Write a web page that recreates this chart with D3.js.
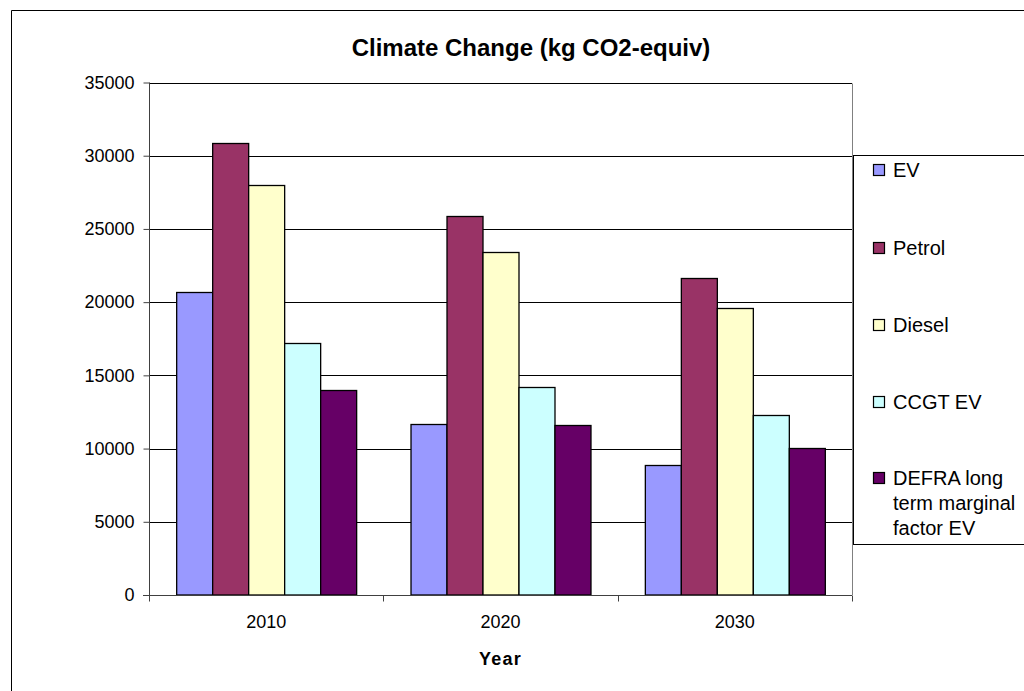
<!DOCTYPE html>
<html>
<head>
<meta charset="utf-8">
<script src="https://cdn.jsdelivr.net/npm/d3@7"></script>
<style>
  html, body { margin: 0; padding: 0; background: #fff; }
  svg { display: block; font-family: "Liberation Sans", Arial, sans-serif; }
</style>
</head>
<body>
<svg id="chart" width="1024" height="691"></svg>
<script>
// Climate change impact per vehicle type, kg CO2-equivalent
const years = ["2010", "2020", "2030"];
const seriesNames = ["EV", "Petrol", "Diesel", "CCGT EV", "DEFRA long term marginal factor EV"];
const legendLines = [["EV"], ["Petrol"], ["Diesel"], ["CCGT EV"], ["DEFRA long", "term marginal", "factor EV"]];
const evValues     = [20700, 11700, 8900];
const petrolValues = [30900, 25900, 21650];
const dieselValues = [28000, 23400, 19600];
const ccgtValues   = [17200, 14200, 12300];
const defraValues  = [14000, 11600, 10050];
const yTicks = [0, 5000, 10000, 15000, 20000, 25000, 30000, 35000];
const colors = ["#9999FF", "#993366", "#FFFFCC", "#CCFFFF", "#660066"];

const seriesValues = [evValues, petrolValues, dieselValues, ccgtValues, defraValues];

const svg = d3.select("#chart");
const plot = { left: 149, right: 852, top: 82.5, bottom: 595 };

// outer chart frame
svg.append("path")
  .attr("d", "M11.5,700 V10.5 H1030")
  .attr("fill", "none").attr("stroke", "#000").attr("stroke-width", 1);

const x0 = d3.scaleBand().domain(years).range([plot.left, plot.right]).paddingInner(0).paddingOuter(0);
const x1 = d3.scaleBand().domain(seriesNames).range([0, x0.bandwidth()]).paddingInner(0).paddingOuter(0.755);
const y = d3.scaleLinear().domain([0, 35000]).range([plot.bottom, plot.top]);

// gridlines
svg.append("g").selectAll("line").data(yTicks.filter(d => d > 0)).join("line")
  .attr("x1", plot.left).attr("x2", plot.right)
  .attr("y1", d => Math.round(y(d)) + 0.5).attr("y2", d => Math.round(y(d)) + 0.5)
  .attr("stroke", "#000").attr("stroke-width", 1);

// plot-area border (right edge)
svg.append("line")
  .attr("x1", plot.right + 0.5).attr("x2", plot.right + 0.5)
  .attr("y1", Math.round(plot.top) + 0.5).attr("y2", plot.bottom)
  .attr("stroke", "#808080");

// bars
const groups = svg.append("g").selectAll("g").data(years).join("g")
  .attr("transform", d => `translate(${x0(d)},0)`);
groups.selectAll("rect")
  .data((yr, i) => seriesNames.map((s, k) => ({ s, k, v: seriesValues[k][i] })))
  .join("rect")
  .attr("x", d => x1(d.s) + 0.5)
  .attr("width", x1.bandwidth())
  .attr("y", d => Math.round(y(d.v)) + 0.5)
  .attr("height", d => plot.bottom - Math.round(y(d.v)) - 0.5)
  .attr("fill", d => colors[d.k])
  .attr("stroke", "#000").attr("stroke-width", 1.3);

// y axis
const yAxis = svg.append("g")
  .attr("transform", `translate(${plot.left + 0.5},0)`)
  .call(d3.axisLeft(y).tickValues(yTicks).tickSize(6).tickPadding(9).tickFormat(d3.format("d")));
yAxis.select(".domain").attr("stroke", "#404040").attr("d", `M0,${plot.top}V${plot.bottom}`);
yAxis.selectAll(".tick line").attr("stroke", "#404040");
yAxis.selectAll(".tick text").attr("font-size", 18).attr("fill", "#000")
  .attr("font-family", "Liberation Sans, Arial, sans-serif");

// x axis
const xAxis = svg.append("g")
  .attr("transform", `translate(0,${plot.bottom + 0.5})`)
  .call(d3.axisBottom(x0).tickSize(0).tickPadding(20));
xAxis.select(".domain").attr("stroke", "#404040").attr("d", `M${plot.left - 6},0H${plot.right}`);
xAxis.selectAll(".tick text").attr("font-size", 18).attr("fill", "#000")
  .attr("font-family", "Liberation Sans, Arial, sans-serif");
// category separators
const seps = years.map(d => x0(d)).concat([x0(years[years.length - 1]) + x0.bandwidth()]);
xAxis.append("g").selectAll("line").data(seps).join("line")
  .attr("x1", d => Math.round(d) + 0.5).attr("x2", d => Math.round(d) + 0.5)
  .attr("y1", 0).attr("y2", 6).attr("stroke", "#404040");

// axis title
svg.append("text")
  .attr("x", (plot.left + plot.right) / 2).attr("y", 665)
  .attr("text-anchor", "middle").attr("font-size", 18).attr("font-weight", "bold")
  .attr("letter-spacing", 1.3).text("Year");

// chart title
svg.append("text")
  .attr("x", 531).attr("y", 56)
  .attr("text-anchor", "middle").attr("font-size", 24).attr("font-weight", "bold")
  .text("Climate Change (kg CO2-equiv)");

// legend
const legend = svg.append("g");
legend.append("rect")
  .attr("x", 853.5).attr("y", 155.5).attr("width", 200).attr("height", 389)
  .attr("fill", "#fff").attr("stroke", "#000").attr("stroke-width", 1);
const legendY = [170, 248, 325, 402, 478];
legendLines.forEach((lines, k) => {
  const cy = legendY[k];
  legend.append("rect")
    .attr("x", 873.5).attr("y", cy - 5.5).attr("width", 11).attr("height", 11)
    .attr("fill", colors[k]).attr("stroke", "#000").attr("stroke-width", 1.2);
  const t = legend.append("text")
    .attr("x", 893).attr("y", cy + 7).attr("font-size", 20).attr("fill", "#000");
  lines.forEach((ln, j) => {
    t.append("tspan").attr("x", 893).attr("dy", j === 0 ? 0 : 25).text(ln);
  });
});
</script>
</body>
</html>
